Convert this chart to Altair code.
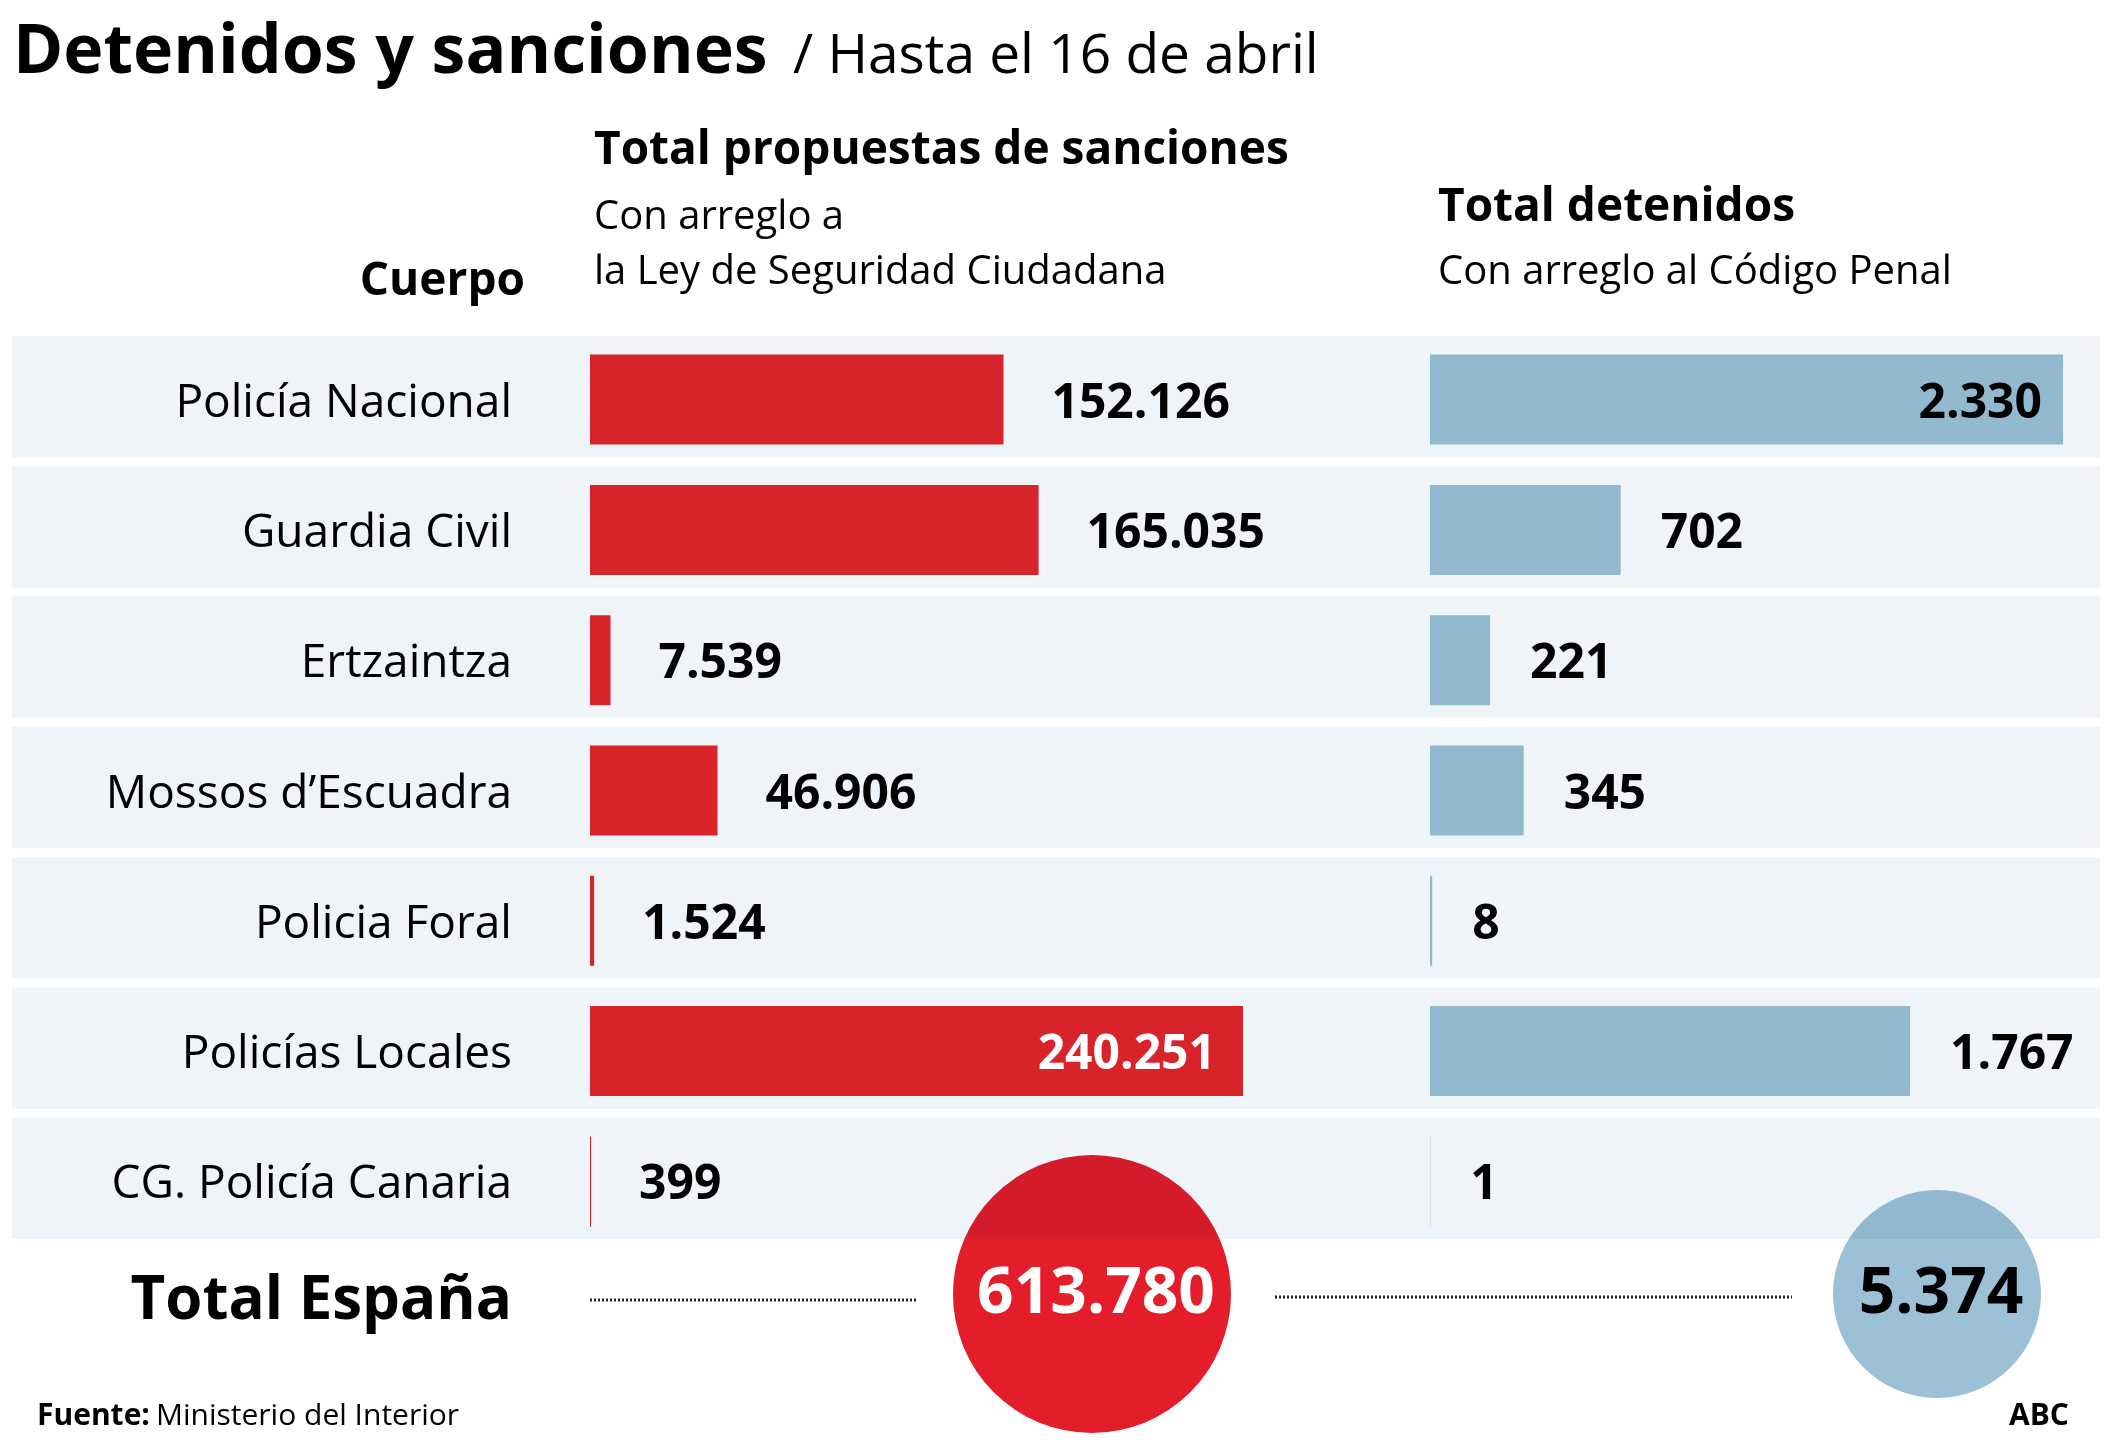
import altair as alt
import pandas as pd

FONT = "Open Sans"

cuerpos = ["Policía Nacional", "Guardia Civil", "Ertzaintza", "Mossos d’Escuadra",
           "Policia Foral", "Policías Locales", "CG. Policía Canaria"]
sanciones = [152126, 165035, 7539, 46906, 1524, 240251, 399]
detenidos = [2330, 702, 221, 345, 8, 1767, 1]
grupos = ["sanciones", "detenidos"]
totales = [613780, 5374]


def fmt(v):
    return f"{v:,}".replace(",", ".")


df = pd.DataFrame({
    "cuerpo": cuerpos,
    "sanc": sanciones,
    "det": detenidos,
    "sanc_lbl": [fmt(v) for v in sanciones],
    "det_lbl": [fmt(v) for v in detenidos],
})
tot = pd.DataFrame({"grupo": grupos, "total": totales, "lbl": [fmt(v) for v in totales]})

ys = alt.Scale(domain=cuerpos, range=[336, 1239], paddingInner=0.07, paddingOuter=0)
Y = alt.Y("cuerpo:N", scale=ys, axis=None, sort=cuerpos)
xr = alt.Scale(domain=[0, max(sanciones)], range=[590, 1243], nice=False, zero=True)
xb = alt.Scale(domain=[0, max(detenidos)], range=[1430, 2063], nice=False, zero=True)
XR = alt.X("sanc:Q", scale=xr, axis=None)
XB = alt.X("det:Q", scale=xb, axis=None)

base = alt.Chart(df)

bands = base.mark_bar(color="#eef4f8").encode(y=Y, x=alt.value(12), x2=alt.value(2100))
red = base.mark_bar(color="#d9232b", size=90, yOffset=3).encode(y=Y, x=XR)
blue = base.mark_bar(color="#93b9ce", size=90, yOffset=3).encode(y=Y, x=XB)

txt_kw = dict(font=FONT, fontSize=48, fontWeight="bold", dy=7)
red_out = base.transform_filter("datum.sanc < 200000").mark_text(
    align="left", dx=48, color="black", **txt_kw).encode(y=Y, x=XR, text="sanc_lbl:N")
red_in = base.transform_filter("datum.sanc >= 200000").mark_text(
    align="right", dx=-27, color="white", **txt_kw).encode(y=Y, x=XR, text="sanc_lbl:N")
blue_out = base.transform_filter("datum.det < 2000").mark_text(
    align="left", dx=40, color="black", **txt_kw).encode(y=Y, x=XB, text="det_lbl:N")
blue_in = base.transform_filter("datum.det >= 2000").mark_text(
    align="right", dx=-21, color="black", **txt_kw).encode(y=Y, x=XB, text="det_lbl:N")

cats = base.mark_text(align="right", font=FONT, fontSize=46, dy=6, color="black").encode(
    y=Y, x=alt.value(512), text="cuerpo:N")


def label(text, x, y, size, weight="normal", align="left", color="black"):
    return alt.Chart(pd.DataFrame({"t": [text]})).mark_text(
        align=align, baseline="alphabetic", font=FONT, fontSize=size,
        fontWeight=weight, color=color).encode(x=alt.value(x), y=alt.value(y), text="t:N")


texts = [
    label("Detenidos y sanciones", 13, 73, 68, "bold"),
    label("/ Hasta el 16 de abril", 793, 73, 55),
    label("Total propuestas de sanciones", 594, 164, 46, "bold"),
    label("Con arreglo a", 594, 229, 40),
    label("la Ley de Seguridad Ciudadana", 594, 284, 40),
    label("Cuerpo", 525, 295, 46, "bold", "right"),
    label("Total detenidos", 1438, 221, 46, "bold"),
    label("Con arreglo al Código Penal", 1438, 284, 40),
    label("Total España", 512, 1319, 60, "bold", "right"),
    label("Fuente:", 37, 1425, 30, "bold"),
    label("Ministerio del Interior", 156, 1425, 30),
    label("ABC", 2069, 1425, 30, "bold", "right"),
]


def dotted(x1, x2, y):
    return alt.Chart(pd.DataFrame({"a": [0]})).mark_rule(
        strokeDash=[2, 2], strokeWidth=3, color="#222222").encode(
        x=alt.value(x1), x2=alt.value(x2), y=alt.value(y))


dots = [dotted(590, 916, 1300), dotted(1275, 1792, 1297)]

XG = alt.X("grupo:N", scale=alt.Scale(domain=grupos, range=[1092, 1937], padding=0), axis=None)
circles = alt.Chart(tot).mark_circle(opacity=1, blend="multiply").encode(
    x=XG, y=alt.value(1294),
    size=alt.Size("total:Q", scale=alt.Scale(domain=[min(totales), max(totales)], range=[43264, 77284]), legend=None),
    color=alt.Color("grupo:N", scale=alt.Scale(domain=grupos, range=["#e41d2b", "#9cc0d6"]), legend=None),
)
circle_txt = alt.Chart(tot).mark_text(
    baseline="alphabetic", font=FONT, fontSize=64, fontWeight="bold", dx=4).encode(
    x=XG, y=alt.value(1313), text="lbl:N",
    color=alt.condition("datum.grupo == 'sanciones'", alt.value("white"), alt.value("black")),
)

chart = alt.layer(
    bands, red, blue, red_out, red_in, blue_out, blue_in, cats,
    *texts, *dots, circles, circle_txt,
).resolve_scale(x="independent").properties(
    width=2125, height=1455, padding=0,
    autosize=alt.AutoSizeParams(type="none"),
    background="white",
).configure_view(strokeWidth=0)

chart.save("out.html", embed_options={"renderer": "svg", "actions": False})
